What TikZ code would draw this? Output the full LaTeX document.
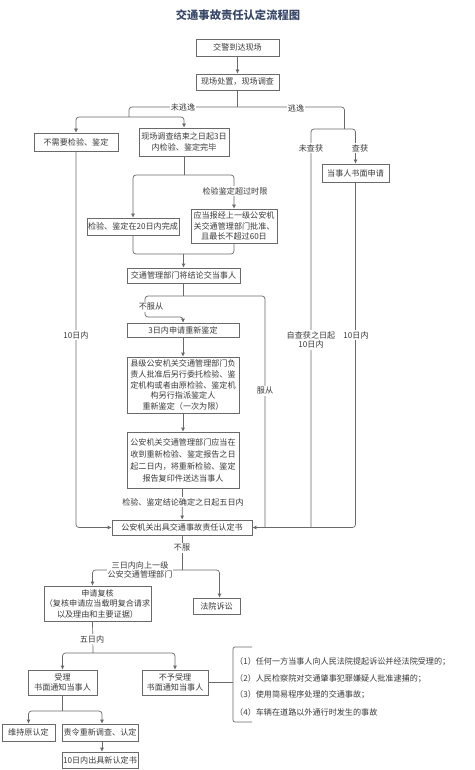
\documentclass[tikz,border=0pt]{standalone}
\usepackage{fontspec}
\setmainfont{Noto Sans CJK SC}
\usetikzlibrary{arrows.meta}
\definecolor{linec}{HTML}{6A6A6A}
\definecolor{txtc}{HTML}{3A3A3A}
\definecolor{titlec}{HTML}{3B4A6B}
\begin{document}
\begin{tikzpicture}[x=1pt,y=-1pt,
  box/.style={draw=linec, line width=0.7pt, fill=white, text=txtc, inner sep=1pt, align=center,
    font=\fontsize{8.1}{10.5}\selectfont},
  lbl/.style={fill=white, text=txtc, inner sep=1pt, align=center, font=\fontsize{8.1}{9.5}\selectfont},
  conn/.style={draw=linec, line width=0.7pt, rounded corners=3pt},
  arr/.style={conn, -{Latex[length=4pt,width=4pt]}}]
\useasboundingbox[fill=white] (0,0) rectangle (474,770);

\node[text=titlec, font=\fontsize{11.3}{13}\selectfont\bfseries] (title) at (238,15) {交通事故责任认定流程图};

% boxes
\node[box, minimum width=83, minimum height=17] (b1) at (237.5,47.5) {交警到达现场};
\node[box, minimum width=83, minimum height=16] (b2) at (237.5,82) {现场处置，现场调查};
\node[box, minimum width=84, minimum height=18] (b3) at (76,142) {不需要检验、鉴定};
\node[box, minimum width=90, minimum height=28] (b4) at (184,142) {现场调查结束之日起3日\\内检验、鉴定完毕};
\node[box, minimum width=92, minimum height=17] (b5) at (133,226.5) {检验、鉴定在20日内完成};
\node[box, minimum width=86, minimum height=34] (b6) at (234,226) {应当报经上一级公安机\\关交通管理部门批准、\\且最长不超过60日};
\node[box, minimum width=113, minimum height=15] (b7) at (183.5,275.5) {交通管理部门将结论交当事人};
\node[box, minimum width=112, minimum height=14] (b8) at (183,330) {3日内申请重新鉴定};
\node[box, minimum width=112, minimum height=56, font=\fontsize{8.1}{10.8}\selectfont] (b9) at (183,385) {县级公安机关交通管理部门负\\责人批准后另行委托检验、鉴\\定机构或者由原检验、鉴定机\\构另行指派鉴定人\\重新鉴定（一次为限）};
\node[box, minimum width=112, minimum height=56, font=\fontsize{8.1}{12}\selectfont] (b10) at (183,460) {公安机关交通管理部门应当在\\收到重新检验、鉴定报告之日\\起二日内，将重新检验、鉴定\\报告复印件送达当事人};
\node[box, minimum width=140, minimum height=15] (b11) at (182,527.5) {公安机关出具交通事故责任认定书};
\node[box, minimum width=101, minimum height=35] (b12) at (97.5,603.5) {申请复核\\（复核申请应当载明复合请求\\以及理由和主要证据）};
\node[box, minimum width=47, minimum height=16] (b13) at (216.5,606) {法院诉讼};
\node[box, minimum width=69, minimum height=25] (b14) at (62.5,682.5) {受理\\书面通知当事人};
\node[box, minimum width=66, minimum height=25] (b15) at (175,682.5) {不予受理\\书面通知当事人};
\node[box, minimum width=53, minimum height=17] (b16) at (28.5,732.5) {维持原认定};
\node[box, minimum width=76, minimum height=17] (b17) at (100,732.5) {责令重新调查、认定};
\node[box, minimum width=76, minimum height=16] (b18) at (100,760) {10日内出具新认定书};
\node[box, minimum width=67, minimum height=18] (b19) at (355.5,173) {当事人书面申请};

% junction coordinates
\coordinate (j1) at (237.5,107);
\coordinate (j2) at (129,117);
\coordinate (j3) at (344.5,129);
\coordinate (r1) at (311,527.5);
\coordinate (j4) at (184,175);
\coordinate (j5) at (183.5,254);
\coordinate (j6) at (183.5,296);
\coordinate (c1) at (145,317);
\coordinate (c2) at (265,527.5);
\coordinate (j7) at (182,570);
\coordinate (j8) at (93,653);
\coordinate (j9) at (62.5,711);
\coordinate (br1) at (252,647);
\coordinate (br2) at (233,647);
\coordinate (br3) at (233,722);
\coordinate (br4) at (252,722);
\coordinate (bm) at (233,682.5);

% connectors
\draw[arr] (b1) -- (b2);
\draw[conn] (b2) -- (j1);
\draw[conn] (j1) -| (j2);
\draw[arr] (j2) -| (b3.north);
\draw[arr] (j2) -| (b4.north);
\draw[conn] (j1) -| (j3);
\draw[conn] (j3) -| (r1);
\draw[arr] (j3) -| (b19.north);
\draw[arr] (b19.south) |- (b11.east);
\draw[conn] (b4) -- (j4);
\draw[arr] (j4) -| (b5.north);
\draw[arr] (j4) -| (b6.north);
\draw[conn] (b5.south) |- (j5);
\draw[conn] (b6.south) |- (j5);
\draw[arr] (j5) -- (b7.north);
\draw[conn] (b7) -- (j6);
\draw[arr] (j6) -| (c1) -| (b8.north);
\draw[conn] (j6) -| (c2);
\draw[arr] (b8) -- (b9);
\draw[arr] (b9) -- (b10);
\draw[arr] (b10) -- (b11);
\draw[arr] (b3.south) |- (b11.west);
\draw[conn] (b11) -- (j7);
\draw[arr] (j7) -| ([xshift=-5pt]b12.north);
\draw[arr] (j7) -| ([xshift=3pt]b13.north);
\draw[conn] ([xshift=-5pt]b12.south) -- (j8);
\draw[arr] (j8) -| (b14.north);
\draw[arr] (j8) -| (b15.north);
\draw[conn] (b15.east) -- (bm);
\draw[conn, rounded corners=2pt] (br1) -- (br2) -- (br3) -- (br4);
\draw[conn] (b14) -- (j9);
\draw[arr] (j9) -| (b16.north);
\draw[arr] (j9) -| ([xshift=2pt]b17.north);
\draw[arr] ([xshift=2pt]b17.south) -- ([xshift=2pt]b18.north);

% labels
\node[lbl] (l1) at (183,107) {未逃逸};
\node[lbl] (l2) at (296,108) {逃逸};
\node[lbl] (l3) at (311,148) {未查获};
\node[lbl] (l4) at (360,148) {查获};
\node[lbl] (l5) at (235,191) {检验鉴定超过时限};
\node[lbl] (l6) at (151,307) {不服从};
\node[lbl] (l7) at (265,391) {服从};
\node[lbl] (l8) at (76,335) {10日内};
\node[lbl] (l9) at (311,340) {自查获之日起\\10日内};
\node[lbl] (l10) at (356,335) {10日内};
\node[lbl] (l11) at (183,502) {检验、鉴定结论确定之日起五日内};
\node[lbl] (l12) at (182,548) {不服};
\node[lbl] (l13) at (140,570) {三日内向上一级\\公安交通管理部门};
\node[lbl] (l14) at (92,639) {五日内};

% bracket text
\node[lbl, anchor=west] (t1) at (234,662) {（1）任何一方当事人向人民法院提起诉讼并经法院受理的；};
\node[lbl, anchor=west] (t2) at (234,678.5) {（2）人民检察院对交通肇事犯罪嫌疑人批准逮捕的；};
\node[lbl, anchor=west] (t3) at (234,695) {（3）使用简易程序处理的交通事故；};
\node[lbl, anchor=west] (t4) at (234,712) {（4）车辆在道路以外通行时发生的事故};
\end{tikzpicture}
\end{document}
